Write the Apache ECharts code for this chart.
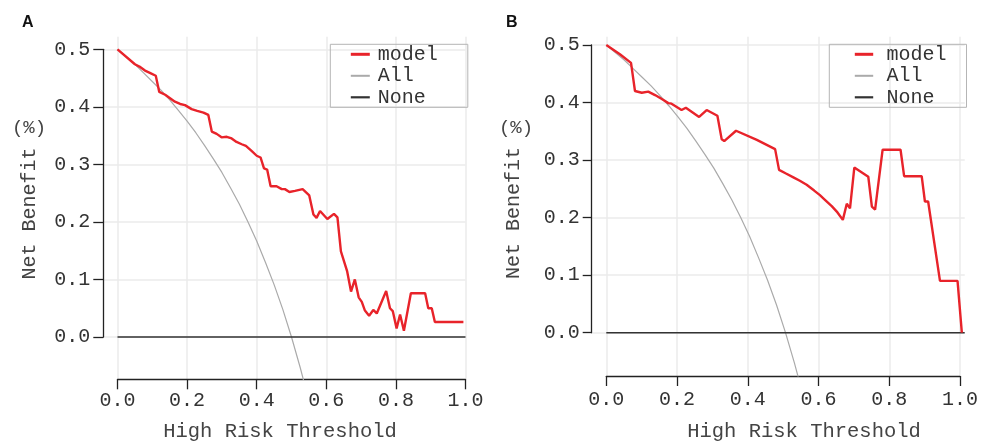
<!DOCTYPE html>
<html>
<head>
<meta charset="utf-8">
<script src="https://cdn.jsdelivr.net/npm/echarts@6/dist/echarts.min.js"></script>
<style>html,body{margin:0;padding:0;background:#fff}#c{width:981px;height:443px}</style>
</head>
<body>
<div id="c"></div>
<script>
// ---------- data ----------
const xTickLabels = ['0.0', '0.2', '0.4', '0.6', '0.8', '1.0'];
const yTickLabels = ['0.0', '0.1', '0.2', '0.3', '0.4', '0.5'];
const seriesNames = ['model', 'All', 'None'];

const modelA = [
  [0, 0.5], [0.05, 0.474], [0.063, 0.470], [0.079, 0.463], [0.093, 0.459], [0.11, 0.454],
  [0.12, 0.426], [0.137, 0.421], [0.151, 0.415], [0.165, 0.409], [0.18, 0.405], [0.194, 0.403],
  [0.213, 0.396], [0.229, 0.393], [0.247, 0.390], [0.261, 0.386], [0.271, 0.357], [0.285, 0.353],
  [0.299, 0.347], [0.314, 0.348], [0.328, 0.345], [0.342, 0.339], [0.357, 0.335], [0.369, 0.332],
  [0.386, 0.323], [0.4, 0.315], [0.411, 0.312], [0.421, 0.293], [0.43, 0.291], [0.44, 0.262],
  [0.457, 0.262], [0.472, 0.257], [0.481, 0.257], [0.494, 0.252], [0.51, 0.254], [0.532, 0.257],
  [0.551, 0.246], [0.563, 0.213], [0.572, 0.207], [0.582, 0.219], [0.603, 0.205], [0.622, 0.214],
  [0.632, 0.208], [0.642, 0.149], [0.66, 0.114], [0.671, 0.079], [0.682, 0.100], [0.693, 0.069],
  [0.702, 0.061], [0.711, 0.046], [0.723, 0.037], [0.735, 0.047], [0.745, 0.041], [0.772, 0.080],
  [0.783, 0.050], [0.791, 0.045], [0.802, 0.015], [0.812, 0.039], [0.823, 0.011], [0.843, 0.076],
  [0.884, 0.076], [0.893, 0.050], [0.903, 0.050], [0.912, 0.026], [0.994, 0.026]
];
const modelB = [
  [0, 0.5], [0.038, 0.484], [0.069, 0.469], [0.08, 0.420], [0.099, 0.417], [0.117, 0.419],
  [0.136, 0.413], [0.155, 0.406], [0.173, 0.399], [0.182, 0.398], [0.21, 0.387], [0.222, 0.391],
  [0.259, 0.375], [0.28, 0.387], [0.31, 0.377], [0.322, 0.336], [0.329, 0.333], [0.362, 0.351],
  [0.42, 0.335], [0.471, 0.319], [0.482, 0.283], [0.50, 0.277], [0.522, 0.270], [0.54, 0.264],
  [0.559, 0.257], [0.58, 0.247], [0.596, 0.239], [0.61, 0.231], [0.629, 0.220], [0.645, 0.209],
  [0.66, 0.196], [0.671, 0.224], [0.680, 0.216], [0.692, 0.287], [0.731, 0.271], [0.741, 0.219],
  [0.750, 0.214], [0.771, 0.318], [0.821, 0.318], [0.831, 0.272], [0.880, 0.272], [0.889, 0.228],
  [0.898, 0.228], [0.931, 0.090], [0.98, 0.090], [0.992, 0.0]
];
const allCurve = [
  [0, 0.5], [0.025, 0.487], [0.05, 0.474], [0.075, 0.459], [0.1, 0.444], [0.125, 0.429],
  [0.15, 0.412], [0.175, 0.394], [0.2, 0.375], [0.225, 0.355], [0.25, 0.333], [0.275, 0.310],
  [0.3, 0.286], [0.325, 0.259], [0.35, 0.231], [0.375, 0.200], [0.4, 0.167], [0.425, 0.130],
  [0.45, 0.091], [0.475, 0.048], [0.5, 0.0], [0.525, -0.053], [0.55, -0.111]
];
const noneLine = [[0, 0], [1, 0]];

// ---------- style ----------
const FONT = 'Liberation Mono';
const TXT = '#333';
const RED = '#e8232a';
const GRAY = '#aaaaaa';
const GRID = '#ebebeb';
const legendWidths = { model: 3, All: 2, None: 2.2 };

function panel(p) {
  const gi = p.base;
  const grids = [
    { left: p.x0, top: p.yTop, width: p.w, height: p.xAxisY - p.yTop },
    { left: p.x0, top: p.gridTop, width: p.w, height: p.xAxisY - p.gridTop },
    { left: p.yAxisX, top: p.yTop, width: p.x0 + p.w - p.yAxisX, height: p.y0 - p.yTop }
  ];
  const xAxes = [
    { gridIndex: gi, type: 'value', min: 0, max: 1, show: false },
    { gridIndex: gi + 1, type: 'value', min: 0, max: 1, interval: 0.2,
      axisLine: { show: true, onZero: false, lineStyle: { color: '#222', width: 1.3 } },
      axisTick: { show: true, inside: false, length: p.xTickLen, lineStyle: { color: '#222', width: 1.3 } },
      axisLabel: { show: true, margin: p.xLabMargin, fontFamily: FONT, fontSize: 20, color: TXT,
        formatter: (v, i) => xTickLabels[i] },
      splitLine: { show: true, lineStyle: { color: GRID, width: 1.5 } } },
    { gridIndex: gi + 2, type: 'value', min: 0, max: 1, show: false }
  ];
  const yAxes = [
    { gridIndex: gi, type: 'value', min: p.yMin, max: 0.5, show: false },
    { gridIndex: gi + 1, type: 'value', min: 0, max: 1, show: false },
    { gridIndex: gi + 2, type: 'value', min: 0, max: 0.5, interval: 0.1,
      axisLine: { show: true, onZero: false, lineStyle: { color: '#222', width: 1.3 } },
      axisTick: { show: true, inside: false, length: p.yTickLen, lineStyle: { color: '#222', width: 1.3 } },
      axisLabel: { show: true, margin: p.yLabMargin, fontFamily: FONT, fontSize: 20, color: TXT,
        formatter: (v, i) => yTickLabels[i] },
      splitLine: { show: true, lineStyle: { color: GRID, width: 1.5 } } }
  ];
  const series = [
    { name: 'All', type: 'line', xAxisIndex: gi, yAxisIndex: gi, data: allCurve, symbol: 'none',
      lineStyle: { color: GRAY, width: 1.2 }, itemStyle: { color: GRAY }, z: 3 },
    { name: 'None', type: 'line', xAxisIndex: gi, yAxisIndex: gi, data: noneLine, symbol: 'none',
      lineStyle: { color: '#333', width: 1.6 }, itemStyle: { color: '#333' }, z: 4 },
    { name: 'model', type: 'line', xAxisIndex: gi, yAxisIndex: gi, data: p.model, symbol: 'none',
      lineStyle: { color: RED, width: 2.4 }, itemStyle: { color: RED }, z: 5 }
  ];
  const legend = {
    orient: 'vertical', left: p.legLeft, top: 44.3,
    data: seriesNames.map(n => ({ name: n, lineStyle: { width: legendWidths[n] } })),
    padding: p.legPad,
    itemWidth: p.legIconW, itemHeight: 14, itemGap: 1.5,
    borderColor: '#b5b5b5', borderWidth: 1, borderRadius: 0,
    selectedMode: false,
    itemStyle: { opacity: 0 },
    textStyle: { fontFamily: FONT, fontSize: 20, color: TXT, lineHeight: 20, padding: [0, 0, 0, p.legTextPad] }
  };
  const graphics = [
    { type: 'text', left: p.letterX, top: 15, style: { text: p.letter, font: 'bold 16px "Liberation Sans", Arial', fill: '#111' } },
    { type: 'text', x: p.ytitleX, y: p.ytitleY, rotation: Math.PI / 2,
      style: { text: 'Net Benefit', font: '20px "' + FONT + '"', fill: '#444', textAlign: 'center', textVerticalAlign: 'middle' } },
    { type: 'text', x: p.pctX, y: 128,
      style: { text: '(%)', font: '19px "' + FONT + '"', fill: '#444', textAlign: 'center', textVerticalAlign: 'middle' } },
    { type: 'text', x: p.xtitleX, y: 431.5,
      style: { text: 'High Risk Threshold', font: '20.5px "' + FONT + '"', fill: '#444', textAlign: 'center', textVerticalAlign: 'middle' } }
  ];
  return { grids, xAxes, yAxes, series, legend, graphics };
}

const A = panel({
  base: 0, model: modelA, letter: 'A', letterX: 22,
  x0: 117.5, w: 348, yTop: 49.3, y0: 337, xAxisY: 379.3, gridTop: 36.7, yAxisX: 103.3,
  yMin: -0.0735, xTickLen: 10, yTickLen: 10, xLabMargin: 11, yLabMargin: 13,
  legLeft: 330.3, legPad: [0, 30, 0, 19], legIconW: 19, legTextPad: 3,
  ytitleX: 30, ytitleY: 213.5, pctX: 29, xtitleX: 280
});
const B = panel({
  base: 3, model: modelB, letter: 'B', letterX: 506,
  x0: 606.3, w: 358.4, yTop: 45, y0: 332.7, xAxisY: 376, gridTop: 36.7, yAxisX: 591.7,
  yMin: -0.0753, xTickLen: 10, yTickLen: 9, xLabMargin: 14, yLabMargin: 12,
  legLeft: 829.3, legPad: [0, 20, 0, 24], legIconW: 18.4, legTextPad: 8.3,
  ytitleX: 514, ytitleY: 213, pctX: 516, xtitleX: 804
});

const chart = echarts.init(document.getElementById('c'), null, { renderer: 'canvas' });
chart.setOption({
  animation: false,
  backgroundColor: '#fff',
  grid: A.grids.concat(B.grids),
  xAxis: A.xAxes.concat(B.xAxes),
  yAxis: A.yAxes.concat(B.yAxes),
  series: A.series.concat(B.series),
  legend: [A.legend, B.legend],
  graphic: A.graphics.concat(B.graphics)
});
</script>
</body>
</html>
